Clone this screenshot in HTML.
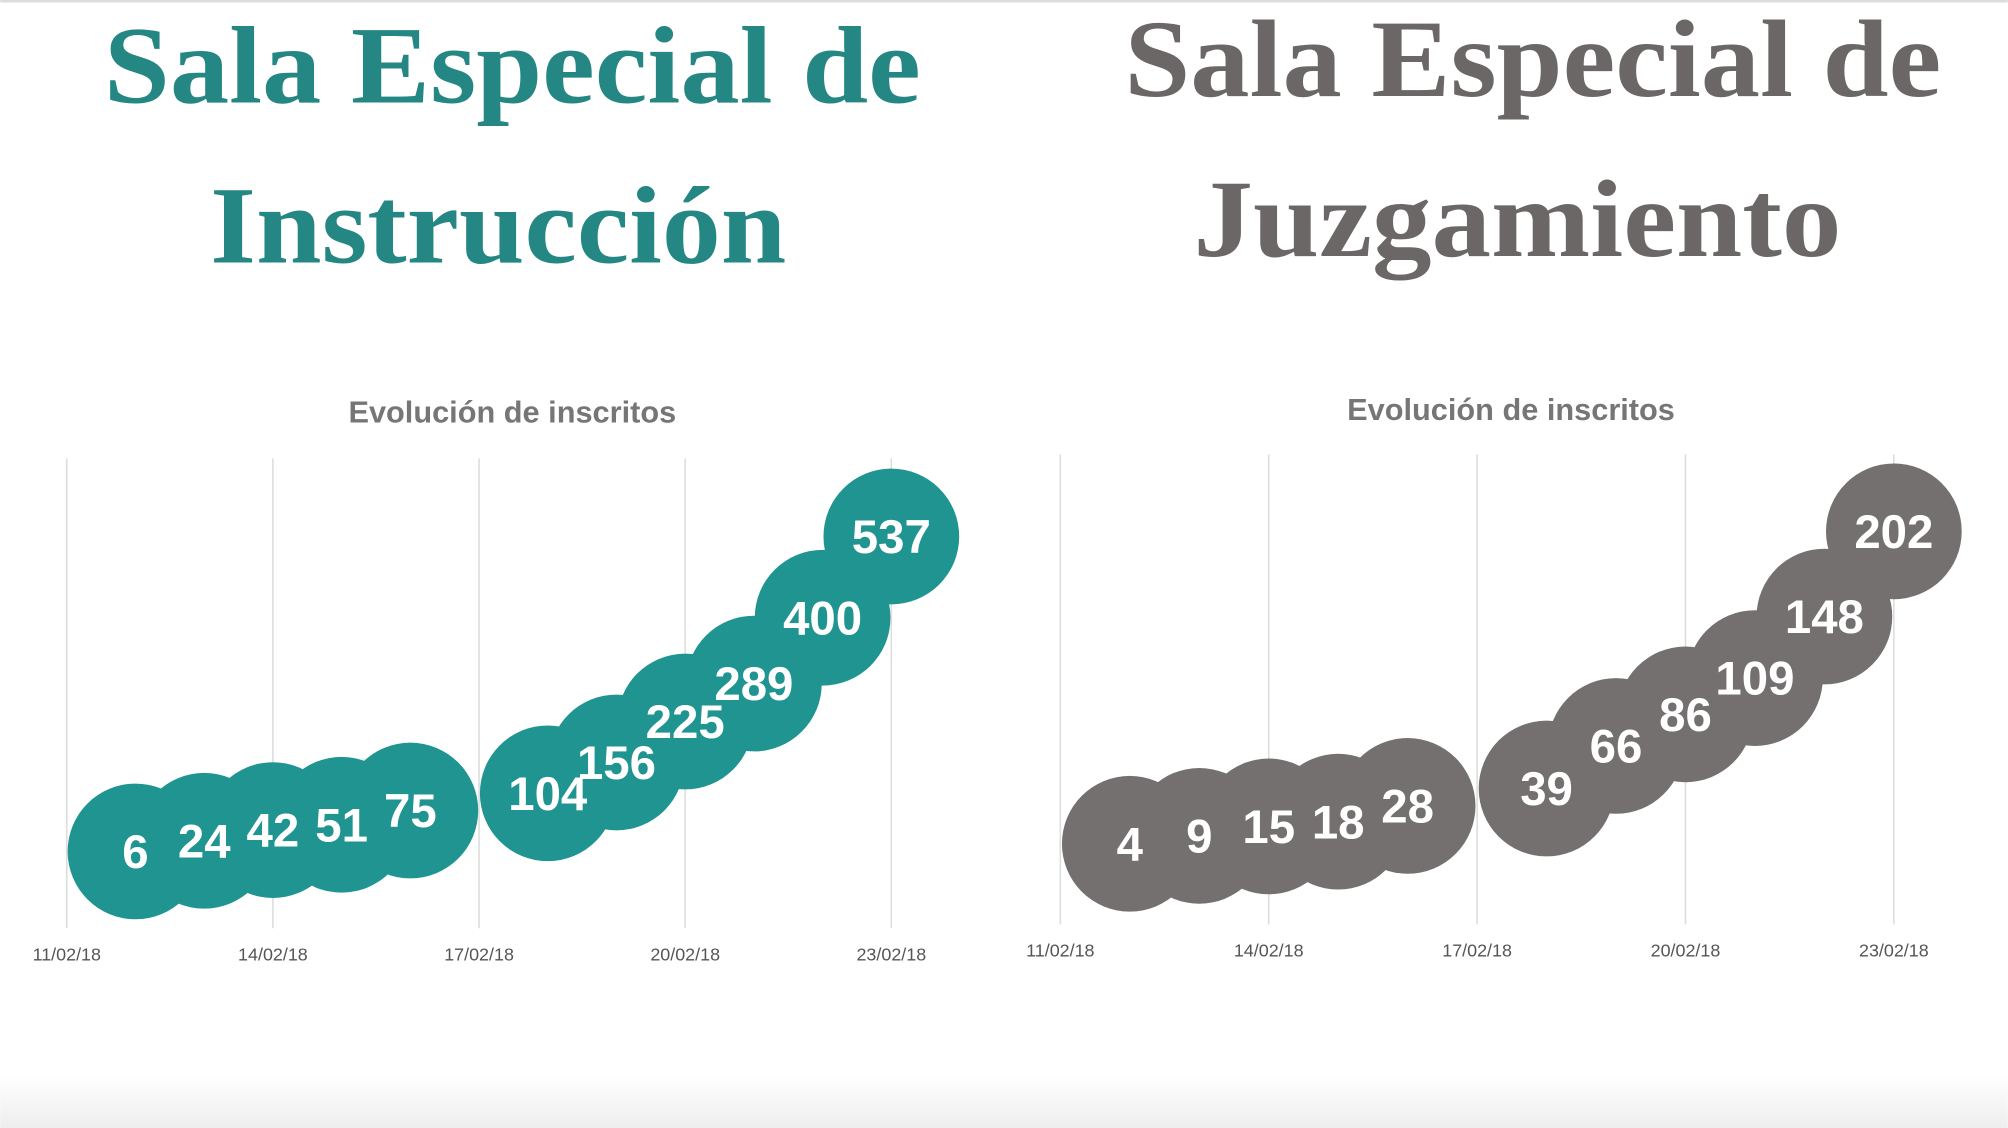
<!DOCTYPE html>
<html><head><meta charset="utf-8"><style>
html,body{margin:0;padding:0;background:#fff;}
svg{display:block;}
</style></head><body>
<svg id="c" width="2008" height="1128" viewBox="0 0 1568 881" xmlns="http://www.w3.org/2000/svg">
<defs><linearGradient id="bg" x1="0" y1="0" x2="0" y2="1"><stop offset="0" stop-color="#ffffff"/><stop offset="1" stop-color="#eeeeee"/></linearGradient></defs>
<rect x="0" y="0" width="1568" height="881" fill="#fff"/>
<rect x="0" y="840" width="1568" height="41" fill="url(#bg)"/>
<rect x="0" y="0" width="1568" height="2" fill="#ddd"/>
<g font-family="'Liberation Serif', serif" font-weight="bold" font-size="86" text-anchor="middle">
<text x="400" y="80" fill="#258783" textLength="638" lengthAdjust="spacingAndGlyphs">Sala Especial de</text>
<text x="389" y="205" fill="#258783" textLength="450" lengthAdjust="spacingAndGlyphs">Instrucción</text>
<text x="1197" y="75" fill="#6b6767" textLength="638" lengthAdjust="spacingAndGlyphs">Sala Especial de</text>
<text x="1185" y="200" fill="#6b6767" textLength="506" lengthAdjust="spacingAndGlyphs">Juzgamiento</text>
</g>
<g font-family="'Liberation Sans', sans-serif" font-weight="bold" font-size="24" fill="#767676" text-anchor="middle">
<text x="400" y="330">Evolución de inscritos</text>
<text x="1180" y="328">Evolución de inscritos</text>
</g>
<g id="left"></g>
<g id="right"></g>
</svg>
<script>
const days = [12,13,14,15,16,18,19,20,21,22,23];
const leftValues = [6,24,42,51,75,104,156,225,289,400,537];
const rightValues = [4,9,15,18,28,39,66,86,109,148,202];
const tickDays = [11,14,17,20,23];
const tickLabels = ["11/02/18","14/02/18","17/02/18","20/02/18","23/02/18"];
const NS = "http://www.w3.org/2000/svg";
function mk(tag, attrs, parent){const e=document.createElementNS(NS,tag);for(const k in attrs)e.setAttribute(k,attrs[k]);parent.appendChild(e);return e;}
function draw(gid, values, cfg){
  const g=document.getElementById(gid);
  const xs=d=>cfg.x0+(d-11)*(cfg.x1-cfg.x0)/12;
  const ys=v=>cfg.y0-(v-cfg.v0)*(cfg.y0-cfg.y1)/(cfg.v1-cfg.v0);
  tickDays.forEach((d,i)=>{
    const l=mk('line',{x1:xs(d),x2:xs(d),y1:cfg.gTop,y2:cfg.gBot,stroke:'#dcdcdc','stroke-width':1.2},g);
    
    
    const t=mk('text',{x:xs(d),y:cfg.gBot+25,'font-family':"'Liberation Sans', sans-serif",'font-size':14,fill:'#555','text-anchor':'middle'},g);
    t.textContent=tickLabels[i];
    
    
  });
  values.forEach((v,i)=>{
    const c=mk('circle',{cx:xs(days[i]),cy:ys(v),r:53,fill:cfg.color},g);
    
    
  });
  values.forEach((v,i)=>{
    const t=mk('text',{x:xs(days[i]),y:ys(v)+13,'font-family':"'Liberation Sans', sans-serif",'font-weight':'bold','font-size':37,fill:'#fff','text-anchor':'middle'},g);
    t.textContent=v;
    
    
  });
}
draw('left',leftValues,{x0:52,x1:696,y0:665,y1:419,v0:6,v1:537,gTop:358,gBot:725,color:'#1f9490'});
draw('right',rightValues,{x0:828,x1:1479,y0:659,y1:415,v0:4,v1:202,gTop:355,gBot:722,color:'#747070'});
</script>
</body></html>
